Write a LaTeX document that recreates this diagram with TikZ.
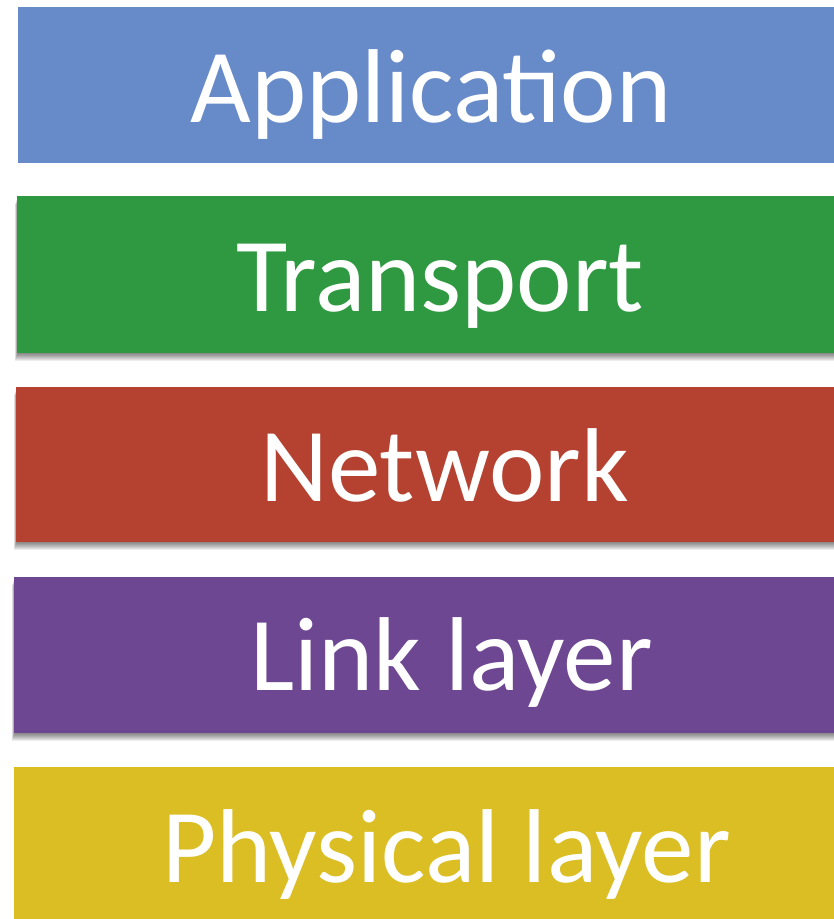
\documentclass[tikz,border=0pt]{standalone}
\usepackage{fontspec}
\setmainfont{Carlito}
\definecolor{appblue}{RGB}{103,138,201}
\definecolor{trgreen}{RGB}{46,153,64}
\definecolor{netred}{RGB}{181,66,48}
\definecolor{linkpurple}{RGB}{110,71,146}
\definecolor{phyyellow}{RGB}{219,190,36}
\begin{document}
\begin{tikzpicture}[x=1pt,y=-1pt,
  lbl/.style={anchor=base,inner sep=0pt,text=white,font=\fontsize{105}{110}\selectfont},
  shade1/.style={fill=black,opacity=0.07}]
\useasboundingbox (0,0) rectangle (834,919);
\fill[white] (0,0) rectangle (834,919);
% shadows
\foreach \t/\b/\l in {196/353/17, 387/542/16, 577/733/14}{
  \foreach \d in {1,2,3,4,5,6,7,8}{
    \fill[shade1] (\l-0.4*\d+1,\t+\d) rectangle (834,\b+\d);
  }
}
% bars
\fill[appblue]    (18,7)   rectangle (834,163) coordinate (bar1);
\fill[trgreen]    (17,196) rectangle (834,353) coordinate (bar2);
\fill[netred]     (16,387) rectangle (834,542) coordinate (bar3);
\fill[linkpurple] (14,577) rectangle (834,733) coordinate (bar4);
\fill[phyyellow]  (14,767) rectangle (834,919) coordinate (bar5);
% labels
\node[lbl] (app)  at (431,122) {Application};
\node[lbl] (tr)   at (440,311) {Transport};
\node[lbl] (net)  at (444.5,501) {Network};
\node[lbl] (link) at (451.5,690) {Link layer};
\node[lbl] (phy)  at (446.5,882) {Physical layer};
\end{tikzpicture}
\end{document}
